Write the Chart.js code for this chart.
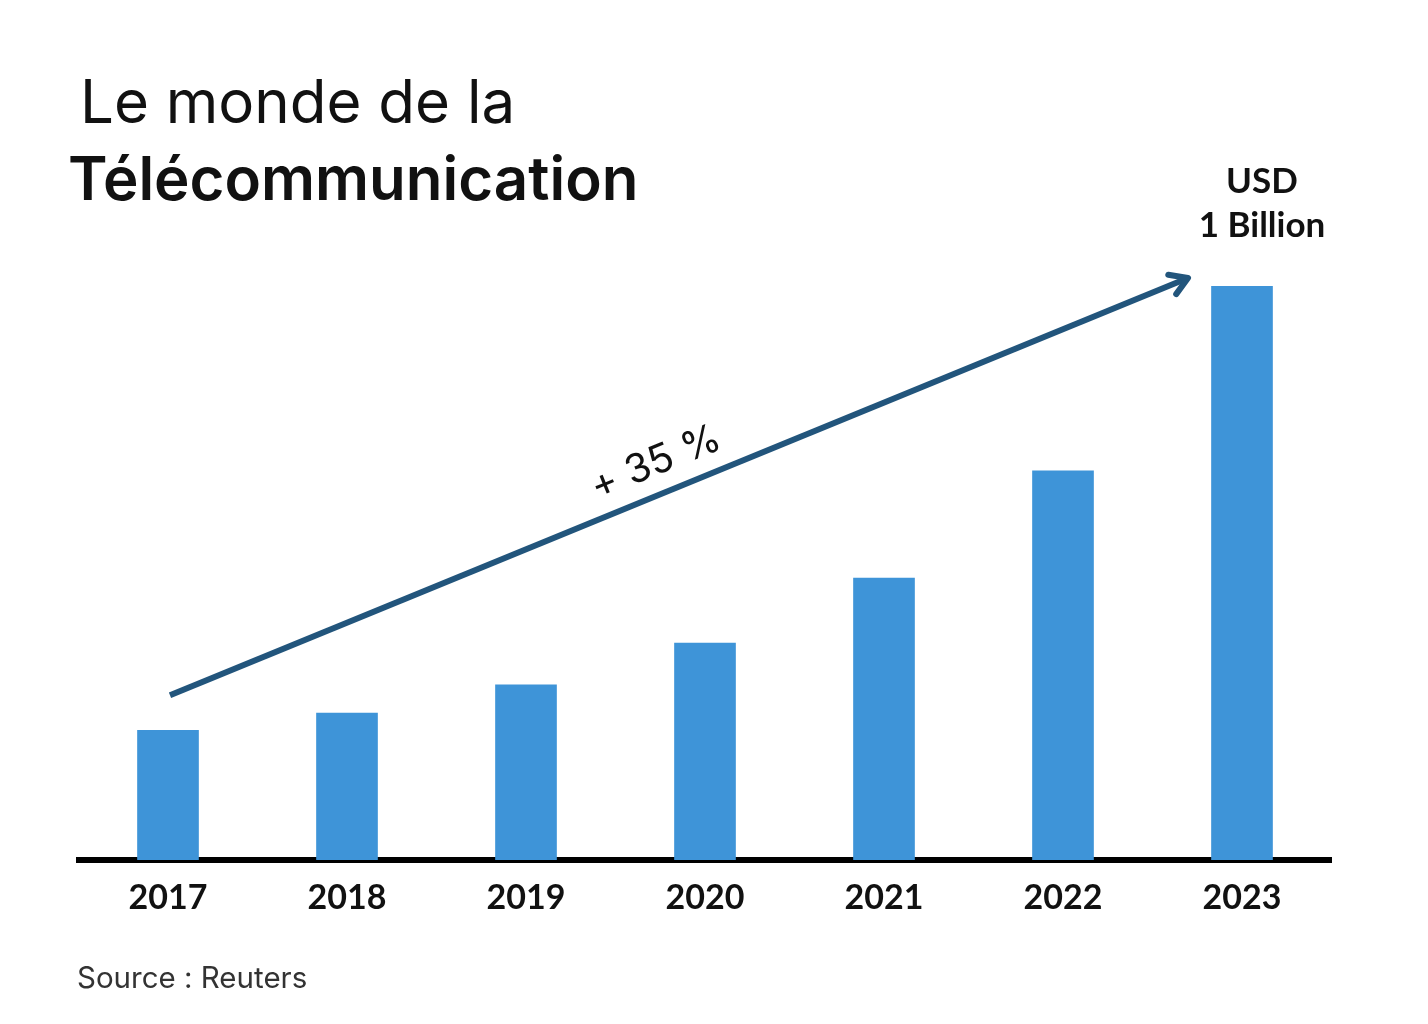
<!DOCTYPE html>
<html>
<head>
<meta charset="utf-8">
<title>Le monde de la Télécommunication</title>
<script src="https://cdn.jsdelivr.net/npm/chart.js@4.4.1/dist/chart.umd.min.js"></script>
<style>
  html, body { margin: 0; padding: 0; background: #ffffff; }
  #wrap { width: 1428px; height: 1024px; position: relative; }
</style>
</head>
<body>
<div id="wrap"><canvas id="telecomChart" width="1428" height="1024"></canvas></div>
<script>
// Données du graphique
const years = ['2017', '2018', '2019', '2020', '2021', '2022', '2023'];
const revenue = [226, 256, 305, 378, 491, 678, 1000]; // millions USD (2023 = 1 milliard)
const titleLines = ['Le monde de la', 'Télécommunication'];
const peakLabel = ['USD', '1 Billion'];
const growthLabel = '+ 35 %';
const sourceLabel = 'Source : Reuters';

const FONT = 'Lato, "Open Sans", sans-serif';
const FONT_TITLE = 'Inter, Lato, sans-serif';

// Plugin pour les textes et la flèche de croissance
const annotations = {
    id: 'annotations',
    afterDraw(chart) {
        const c = chart.ctx;
        const x = chart.scales.x;
        const y = chart.scales.y;
        c.save();

        // Titre
        c.fillStyle = '#111111';
        c.textBaseline = 'alphabetic';
        c.textAlign = 'left';
        c.font = '400 60px ' + FONT_TITLE;
        c.fillText(titleLines[0], 80, 123);
        c.font = '600 60px ' + FONT_TITLE;
        c.fillText(titleLines[1], 68, 200);

        // Étiquette au-dessus de la dernière barre
        const last = revenue.length - 1;
        const px = x.getPixelForValue(last) + 20;
        c.textAlign = 'center';
        c.font = '700 35px ' + FONT;
        c.fillText(peakLabel[0], px, 193);
        c.fillText(peakLabel[1], px, 237);

        // Flèche de croissance
        const x0 = x.getPixelForValue(0) + 2, y0 = y.getPixelForValue(revenue[0]) - 35;
        const x1 = x.getPixelForValue(last) - 54, y1 = y.getPixelForValue(revenue[last]) - 8;
        const ang = Math.atan2(y1 - y0, x1 - x0);
        c.strokeStyle = '#22557c';
        c.lineWidth = 6;
        c.lineCap = 'butt';
        c.beginPath();
        c.moveTo(x0, y0);
        c.lineTo(x1 - 2 * Math.cos(ang), y1 - 2 * Math.sin(ang));
        c.stroke();
        c.lineCap = 'round';
        c.lineJoin = 'round';
        c.beginPath();
        const head = 20;
        c.moveTo(x1 - head * Math.cos(ang - 0.55), y1 - head * Math.sin(ang - 0.55));
        c.lineTo(x1, y1);
        c.lineTo(x1 - head * Math.cos(ang + 0.55), y1 - head * Math.sin(ang + 0.55));
        c.stroke();

        // Texte "+ 35 %" le long de la flèche
        const tx = 662, ty = y0 + (tx - x0) * Math.tan(ang);
        c.translate(tx + 31 * Math.sin(ang), ty - 31 * Math.cos(ang));
        c.rotate(ang);
        c.fillStyle = '#111111';
        c.font = '400 40px ' + FONT_TITLE;
        c.textBaseline = 'middle';
        c.fillText(growthLabel, 6, 0);
        c.restore();

        // Source
        c.save();
        c.fillStyle = '#333333';
        c.font = '400 29.5px ' + FONT_TITLE;
        c.textAlign = 'left';
        c.textBaseline = 'alphabetic';
        c.fillText(sourceLabel, 77, 988);
        c.restore();
    }
};

const ctx = document.getElementById('telecomChart').getContext('2d');
new Chart(ctx, {
    type: 'bar',
    data: {
        labels: years,
        datasets: [{
            data: revenue,
            backgroundColor: '#3e94d8',
            borderWidth: 0,
            barThickness: 61
        }]
    },
    options: {
        responsive: false,
        animation: false,
        layout: { padding: { left: 78.5, right: 96.5, top: 286, bottom: 90 } },
        plugins: {
            legend: { display: false },
            tooltip: { enabled: false },
            title: { display: false }
        },
        scales: {
            x: {
                z: 1,
                grid: { display: false, drawTicks: false },
                border: { display: true, color: '#000000', width: 6 },
                ticks: {
                    color: '#111111',
                    padding: 18,
                    font: { family: FONT, size: 34, weight: '700' }
                },
                afterFit(scale) { scale.height = 74; }
            },
            y: {
                display: false,
                min: 0,
                max: 1000
            }
        }
    },
    plugins: [annotations]
});
</script>
</body>
</html>
